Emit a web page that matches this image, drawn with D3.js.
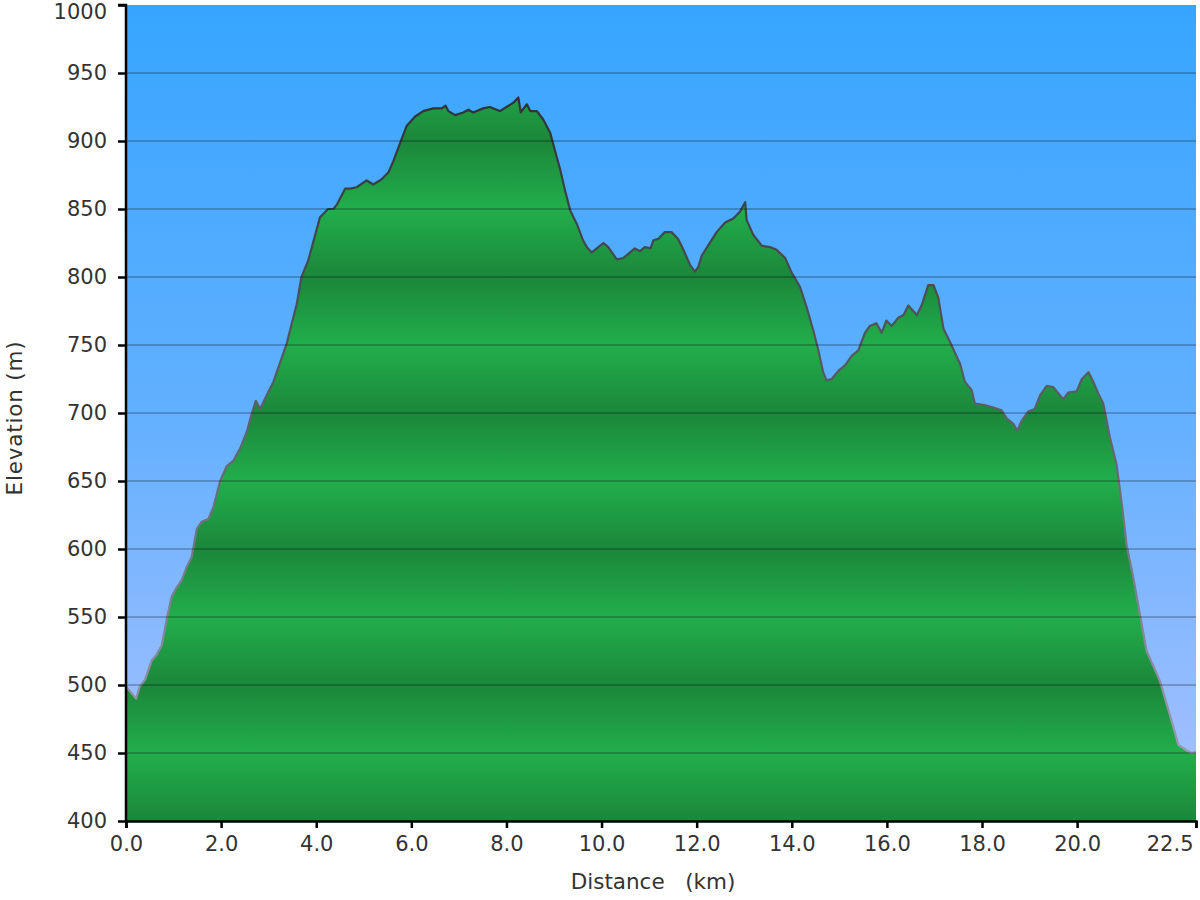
<!DOCTYPE html>
<html>
<head>
<meta charset="utf-8">
<script src="https://cdn.jsdelivr.net/npm/d3@7/dist/d3.min.js"></script>
<style>
  html, body { margin: 0; padding: 0; background: #ffffff; }
  svg { display: block; }
  text { font-family: "DejaVu Sans", Verdana, sans-serif; fill: #333333; }
</style>
</head>
<body>
<svg id="chart" width="1200" height="900"></svg>
<script>
// ---- data ----
const distanceKm = [0, 0.21, 0.29, 0.40, 0.54, 0.64, 0.75, 0.86, 0.96, 1.07,
  1.17, 1.28, 1.38, 1.49, 1.59, 1.73, 1.84, 1.98, 2.12, 2.26,
  2.40, 2.54, 2.64, 2.73, 2.82, 2.96, 3.10, 3.24, 3.38, 3.48,
  3.59, 3.69, 3.83, 3.94, 4.08, 4.25, 4.36, 4.43, 4.61, 4.71,
  4.85, 5.06, 5.20, 5.38, 5.52, 5.62, 5.76, 5.90, 6.08, 6.25,
  6.46, 6.64, 6.72, 6.78, 6.92, 7.09, 7.20, 7.30, 7.51, 7.65,
  7.86, 8.00, 8.14, 8.25, 8.30, 8.43, 8.50, 8.64, 8.77, 8.92,
  9.02, 9.13, 9.23, 9.34, 9.48, 9.61, 9.69, 9.79, 9.90, 10.04,
  10.14, 10.32, 10.46, 10.70, 10.81, 10.91, 11.03, 11.09, 11.19, 11.33,
  11.47, 11.61, 11.72, 11.86, 11.96, 12.03, 12.11, 12.24, 12.42, 12.60,
  12.77, 12.91, 13.02, 13.05, 13.19, 13.37, 13.54, 13.68, 13.86, 14.00,
  14.17, 14.31, 14.45, 14.56, 14.66, 14.73, 14.84, 14.98, 15.12, 15.26,
  15.40, 15.54, 15.64, 15.78, 15.89, 15.99, 16.10, 16.24, 16.35, 16.45,
  16.63, 16.73, 16.87, 16.98, 17.08, 17.19, 17.33, 17.54, 17.64, 17.78,
  17.85, 18.03, 18.24, 18.41, 18.52, 18.66, 18.74, 18.83, 18.97, 19.11,
  19.22, 19.36, 19.50, 19.71, 19.81, 19.99, 20.10, 20.24, 20.34, 20.45,
  20.55, 20.69, 20.83, 20.94, 21.04, 21.18, 21.32, 21.46, 21.64, 21.74,
  21.95, 22.13, 22.30, 22.41, 22.50];

const elevationM = [499, 490, 499, 504, 518, 522, 529, 549, 565, 572,
  577, 587, 594, 615, 620, 622, 631, 650, 661, 665,
  674, 686, 699, 709, 703, 713, 723, 737, 751, 765,
  780, 800, 812, 826, 844, 850, 850, 853, 865, 865,
  866, 871, 868, 872, 877, 885, 898, 911, 918, 922,
  924, 924, 926, 922, 919, 921, 923, 921, 924, 925,
  922, 925, 928, 932, 921, 927, 922, 922, 916, 906,
  893, 879, 864, 849, 839, 827, 822, 818, 821, 825,
  822, 813, 814, 821, 819, 822, 821, 827, 828, 833,
  833, 828, 820, 809, 804, 807, 816, 823, 833, 840,
  843, 848, 855, 842, 831, 823, 822, 820, 814, 803,
  793, 778, 761, 746, 730, 724, 725, 731, 735, 742,
  746, 759, 764, 766, 759, 768, 764, 770, 772, 779,
  772, 779, 794, 794, 785, 762, 752, 736, 723, 717,
  707, 706, 704, 702, 696, 692, 687, 694, 701, 703,
  713, 720, 719, 710, 715, 716, 725, 730, 723, 714,
  707, 682, 662, 633, 603, 579, 552, 525, 511, 503,
  478, 456, 452, 450, 451];

const xTicks = [0, 2, 4, 6, 8, 10, 12, 14, 16, 18, 20, 22.5];
const yTicks = [400, 450, 500, 550, 600, 650, 700, 750, 800, 850, 900, 950, 1000];
const xLabel = "Distance   (km)";
const yLabel = "Elevation (m)";

// ---- layout ----
const plot = { left: 126, right: 1196, top: 5, bottom: 821 };
const svg = d3.select("#chart");

const x = d3.scaleLinear().domain([0, 22.5]).range([plot.left, plot.right]);
const y = d3.scaleLinear().domain([400, 1000]).range([plot.bottom, plot.top]);

const points = distanceKm.map((d, i) => ({ d, e: elevationM[i] }));

const defs = svg.append("defs");

// sky gradient
const sky = defs.append("linearGradient").attr("id", "sky")
  .attr("x1", 0).attr("y1", 0).attr("x2", 0).attr("y2", 1);
sky.append("stop").attr("offset", 0).attr("stop-color", "#36a5ff");
sky.append("stop").attr("offset", 0.5).attr("stop-color", "#62b0ff");
sky.append("stop").attr("offset", 1).attr("stop-color", "#abc1ff");

// banded green gradient, dark at each 100 m line, light at the 50 m lines
const green = defs.append("linearGradient").attr("id", "green")
  .attr("gradientUnits", "userSpaceOnUse")
  .attr("x1", 0).attr("x2", 0).attr("y1", y(1000)).attr("y2", y(400));
yTicks.slice().reverse().forEach(t => {
  const off = (y(t) - y(1000)) / (y(400) - y(1000));
  green.append("stop").attr("offset", off)
    .attr("stop-color", t % 100 === 0 ? "#1b873a" : "#22ae4b");
});

// stroke gradient (dark at top, grey-lavender near bottom)
const strokeG = defs.append("linearGradient").attr("id", "strokeG")
  .attr("gradientUnits", "userSpaceOnUse")
  .attr("x1", 0).attr("x2", 0).attr("y1", y(950)).attr("y2", y(450));
strokeG.append("stop").attr("offset", 0).attr("stop-color", "#2b2f33");
strokeG.append("stop").attr("offset", 0.5).attr("stop-color", "#5c6066");
strokeG.append("stop").attr("offset", 1).attr("stop-color", "#9a9ab4");

// background
svg.append("rect")
  .attr("x", plot.left).attr("y", plot.top)
  .attr("width", plot.right - plot.left).attr("height", plot.bottom - plot.top)
  .attr("fill", "url(#sky)");

// area
const area = d3.area().x(p => x(p.d)).y0(y(400)).y1(p => y(p.e));
svg.append("path").datum(points)
  .attr("d", area).attr("fill", "url(#green)");

// line
const line = d3.line().x(p => x(p.d)).y(p => y(p.e));
svg.append("path").datum(points)
  .attr("d", line).attr("fill", "none")
  .attr("stroke", "url(#strokeG)").attr("stroke-width", 2.2)
  .attr("stroke-linejoin", "round");

// gridlines
svg.append("g").selectAll("line")
  .data(yTicks.filter(t => t > 400 && t < 1000))
  .join("line")
  .attr("x1", plot.left).attr("x2", plot.right)
  .attr("y1", d => y(d)).attr("y2", d => y(d))
  .attr("stroke", "rgba(0,0,0,0.22)").attr("stroke-width", 2);

// axes
const yAxis = d3.axisLeft(y).tickValues(yTicks).tickSize(8).tickPadding(11)
  .tickFormat(d3.format("d"));
const gy = svg.append("g").attr("transform", `translate(${plot.left},0)`).call(yAxis);
const xAxis = d3.axisBottom(x).tickValues(xTicks).tickSize(7).tickPadding(8)
  .tickFormat(d3.format(".1f"));
const gx = svg.append("g").attr("transform", `translate(0,${plot.bottom})`).call(xAxis);

[gx, gy].forEach(g => {
  g.select(".domain").attr("stroke", "#000").attr("stroke-width", 2.5);
  g.selectAll(".tick line").attr("stroke", "#000").attr("stroke-width", 2.5);
  g.selectAll(".tick text")
    .attr("font-family", '"DejaVu Sans", Verdana, sans-serif')
    .attr("font-size", 21).attr("fill", "#333");
});
gy.select(".domain").attr("d", `M-8,${plot.top}H0V${plot.bottom}`);
// last distance label sits inside the right edge
gx.selectAll(".tick text").filter(d => d === 22.5)
  .attr("text-anchor", "end").attr("dx", "-3");
// top label stays inside the picture
gy.selectAll(".tick text").filter(d => d === 1000).attr("dy", "0.66em");

// axis titles
svg.append("text")
  .attr("x", 653).attr("y", 889)
  .attr("text-anchor", "middle").attr("font-size", 21.5)
  .style("white-space", "pre")
  .text(xLabel);

svg.append("text")
  .attr("transform", `translate(22,${(plot.top + plot.bottom) / 2 + 5}) rotate(-90)`)
  .attr("text-anchor", "middle").attr("font-size", 21.5)
  .attr("letter-spacing", 0.8)
  .text(yLabel);
</script>
</body>
</html>
